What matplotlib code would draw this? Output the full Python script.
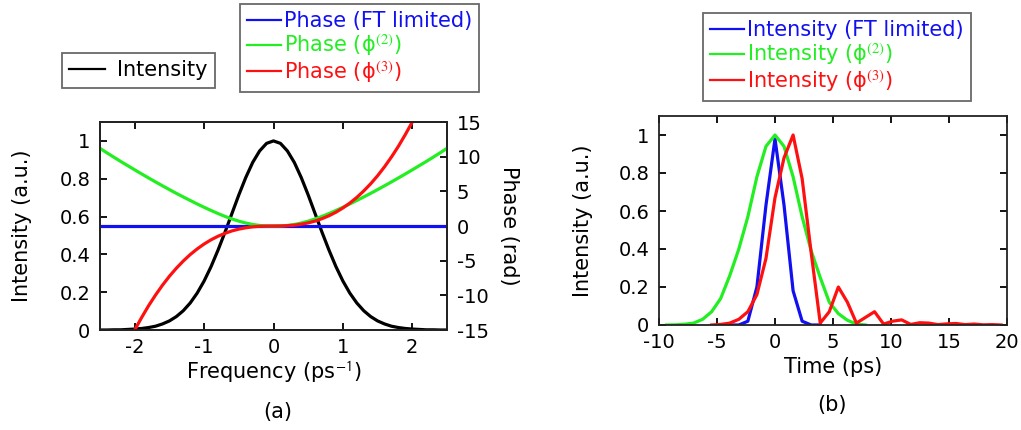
import matplotlib
matplotlib.use("Agg")
import matplotlib.pyplot as plt
from matplotlib.lines import Line2D

plt.rcParams['font.family'] = ['DejaVu Sans']
plt.rcParams['mathtext.fontset'] = 'stix'
plt.rcParams['axes.unicode_minus'] = False

# ---------------- data: panel (a) ----------------
freq = [-2.5, -2.4, -2.3, -2.2, -2.1, -2.0, -1.9, -1.8, -1.7, -1.6, -1.5, -1.4, -1.3,
        -1.2, -1.1, -1.0, -0.9, -0.8, -0.7, -0.6, -0.5, -0.4, -0.3, -0.2, -0.1, 0.0,
        0.1, 0.2, 0.3, 0.4, 0.5, 0.6, 0.7, 0.8, 0.9, 1.0, 1.1, 1.2, 1.3, 1.4, 1.5,
        1.6, 1.7, 1.8, 1.9, 2.0, 2.1, 2.2, 2.3, 2.4, 2.5]
intensity_a = [0.000, 0.000, 0.001, 0.001, 0.003, 0.005, 0.008, 0.013, 0.020, 0.032, 0.048,
               0.071, 0.102, 0.143, 0.195, 0.259, 0.335, 0.422, 0.516, 0.615, 0.714, 0.806,
               0.886, 0.947, 0.987, 1.000, 0.987, 0.947, 0.886, 0.806, 0.714, 0.615, 0.516,
               0.422, 0.335, 0.259, 0.195, 0.143, 0.102, 0.071, 0.048, 0.032, 0.020, 0.013,
               0.008, 0.005, 0.003, 0.001, 0.001, 0.000, 0.000]
phase_ft = [0.0] * 51
phase_2 = [11.20, 10.55, 9.92, 9.30, 8.70, 8.10, 7.51, 6.93, 6.36, 5.80, 5.25, 4.71, 4.19,
           3.68, 3.18, 2.70, 2.24, 1.80, 1.39, 1.02, 0.70, 0.43, 0.22, 0.08, 0.01, 0.00,
           0.01, 0.08, 0.22, 0.43, 0.70, 1.02, 1.39, 1.80, 2.24, 2.70, 3.18, 3.68, 4.19,
           4.71, 5.25, 5.80, 6.36, 6.93, 7.51, 8.10, 8.70, 9.30, 9.92, 10.55, 11.20]
freq3 = [-2.0, -1.9, -1.8, -1.7, -1.6, -1.5, -1.4, -1.3, -1.2, -1.1, -1.0, -0.9, -0.8, -0.7,
         -0.6, -0.5, -0.4, -0.3, -0.2, -0.1, 0.0, 0.1, 0.2, 0.3, 0.4, 0.5, 0.6, 0.7, 0.8,
         0.9, 1.0, 1.1, 1.2, 1.3, 1.4, 1.5, 1.6, 1.7, 1.8, 1.9, 2.0]
phase_3 = [-15.0, -13.2, -11.5, -9.96, -8.54, -7.25, -6.09, -5.05, -4.12, -3.31, -2.60,
           -1.99, -1.48, -1.06, -0.71, -0.45, -0.26, -0.12, -0.044, -0.008, 0.0, 0.008,
           0.044, 0.12, 0.26, 0.45, 0.71, 1.06, 1.48, 1.99, 2.60, 3.31, 4.12, 5.05, 6.09,
           7.25, 8.54, 9.96, 11.5, 13.2, 15.0]

# ---------------- data: panel (b) ----------------
t_blue = [-3.90, -3.12, -2.34, -1.56, -0.78, 0.0, 0.78, 1.56, 2.34, 3.12, 3.90]
i_blue = [0.0, 0.0, 0.02, 0.20, 0.63, 0.98, 0.63, 0.18, 0.02, 0.0, 0.0]

t_green = [-9.36, -8.58, -7.80, -7.02, -6.24, -5.46, -4.68, -3.90, -3.12, -2.34, -1.56,
           -0.78, 0.0, 0.78, 1.56, 2.34, 3.12, 3.90, 4.68, 5.46, 6.24, 7.02, 7.80]
i_green = [0.0, 0.001, 0.004, 0.01, 0.03, 0.07, 0.14, 0.26, 0.40, 0.57, 0.78,
           0.94, 1.0, 0.94, 0.78, 0.57, 0.39, 0.25, 0.12, 0.06, 0.025, 0.005, 0.0]

t_red = [-5.46, -4.68, -3.90, -3.12, -2.34, -1.56, -0.78, 0.0, 0.78, 1.56, 2.34, 3.12,
         3.90, 4.68, 5.46, 6.24, 7.02, 7.80, 8.58, 9.36, 10.14, 10.92, 11.70, 12.48,
         13.26, 14.04, 14.82, 15.60, 16.38, 17.16, 17.94, 18.72, 19.50]
i_red = [0.0, 0.003, 0.01, 0.03, 0.07, 0.16, 0.35, 0.67, 0.88, 1.0, 0.77, 0.38,
         0.01, 0.07, 0.20, 0.12, 0.01, 0.04, 0.07, 0.005, 0.02, 0.027, 0.003, 0.012,
         0.01, 0.002, 0.006, 0.008, 0.002, 0.005, 0.001, 0.002, 0.0]

xticks_a = [-2, -1, 0, 1, 2]
yticks_a = [0, 0.2, 0.4, 0.6, 0.8, 1.0]
yticklabels_a = ['0', '0.2', '0.4', '0.6', '0.8', '1']
phase_ticks = [-15, -10, -5, 0, 5, 10, 15]
xticks_b = [-10, -5, 0, 5, 10, 15, 20]

labels_a1 = ['Intensity']
labels_a2 = ['Phase (FT limited)', 'Phase (ϕ$^{(2)}$)', 'Phase (ϕ$^{(3)}$)']
labels_b = ['Intensity (FT limited)', 'Intensity (ϕ$^{(2)}$)', 'Intensity (ϕ$^{(3)}$)']

BLUE = '#1010f0'
GREEN = '#22ee22'
RED = '#ff1010'
BLACK = '#000000'

W, H = 1021, 430
fig = plt.figure(figsize=(W / 100, H / 100), dpi=100)

def ax_rect(l, r, t, b):
    return [l / W, 1 - b / H, (r - l) / W, (b - t) / H]

TICK_FS = 14
LAB_FS = 15
LEG_FS = 15
LW = 2.3

def style(ax):
    for s in ax.spines.values():
        s.set_linewidth(1.3)
        s.set_color('#222222')
    ax.tick_params(direction='in', length=5, width=1.3, labelsize=TICK_FS)
    ax.tick_params(axis='y', pad=7)
    ax.tick_params(axis='x', pad=6)

# ---------------- panel (a) ----------------
axa = fig.add_axes(ax_rect(100, 447, 122, 330))
axa.plot(freq, intensity_a, color=BLACK, lw=LW)
axa.set_xlim(-2.5, 2.5)
axa.set_ylim(0, 1.1)
axa.set_xticks(xticks_a)
axa.set_yticks(yticks_a)
axa.set_yticklabels(yticklabels_a)
style(axa)
axa.tick_params(top=True, right=False)
axa.set_xlabel('Frequency (ps$^{\\mathsf{-1}}$)', fontsize=LAB_FS, va='center')
axa.set_ylabel('Intensity (a.u.)', fontsize=LAB_FS, va='center')
axa.xaxis.set_label_coords(0.5, -0.202)
axa.yaxis.set_label_coords(-0.225, 0.5)

axp = axa.twinx()
axp.plot(freq, phase_ft, color=BLUE, lw=LW)
axp.plot(freq, phase_2, color=GREEN, lw=LW)
axp.plot(freq3, phase_3, color=RED, lw=LW)
axp.set_ylim(-15, 15)
axp.set_yticks(phase_ticks)
style(axp)
axp.set_ylabel('Phase (rad)', fontsize=LAB_FS, rotation=270, va='center')
axp.yaxis.set_label_coords(1.18, 0.5)

# ---------------- panel (b) ----------------
axb = fig.add_axes(ax_rect(659, 1007, 116, 325))
axb.plot(t_blue, i_blue, color=BLUE, lw=LW)
axb.plot(t_green, i_green, color=GREEN, lw=LW)
axb.plot(t_red, i_red, color=RED, lw=LW)
axb.set_xlim(-10, 20)
axb.set_ylim(0, 1.1)
axb.set_xticks(xticks_b)
axb.set_yticks(yticks_a)
axb.set_yticklabels(yticklabels_a)
style(axb)
axb.tick_params(top=True, right=True)
axb.set_xlabel('Time (ps)', fontsize=LAB_FS, va='center')
axb.set_ylabel('Intensity (a.u.)', fontsize=LAB_FS, va='center')
axb.xaxis.set_label_coords(0.5, -0.2)
axb.yaxis.set_label_coords(-0.218, 0.5)

# ---------------- legends ----------------
def make_legend(handles, labels, colors, anchor, hl, tp):
    leg = fig.legend(handles, labels, loc='upper left', bbox_to_anchor=anchor,
                     bbox_transform=fig.transFigure, fontsize=LEG_FS, frameon=True,
                     fancybox=False, borderaxespad=0, handlelength=hl, handletextpad=tp,
                     labelspacing=0.05, borderpad=0.35)
    fr = leg.get_frame()
    fr.set_edgecolor('#444444')
    fr.set_linewidth(1.3)
    for txt, c in zip(leg.get_texts(), colors):
        txt.set_color(c)
    return leg

h1 = [Line2D([], [], color=BLACK, lw=1.6)]
make_legend(h1, labels_a1, [BLACK], (62 / W, 1 - 53 / H), 1.7, 0.6)
h2 = [Line2D([], [], color=c, lw=1.6) for c in (BLUE, GREEN, RED)]
make_legend(h2, labels_a2, [BLUE, GREEN, RED], (240 / W, 1 - 4 / H), 1.6, 0.15)
h3 = [Line2D([], [], color=c, lw=1.6) for c in (BLUE, GREEN, RED)]
make_legend(h3, labels_b, [BLUE, GREEN, RED], (703 / W, 1 - 13 / H), 1.6, 0.15)

fig.text(278 / W, 1 - 412 / H, '(a)', fontsize=LAB_FS, ha='center', va='center')
fig.text(832 / W, 1 - 405 / H, '(b)', fontsize=LAB_FS, ha='center', va='center')

fig.savefig('out.png', dpi=100, facecolor='white')
